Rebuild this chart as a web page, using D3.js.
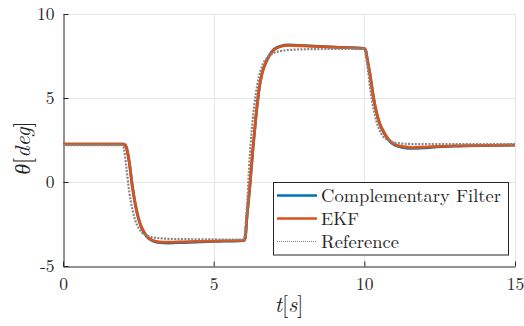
<!DOCTYPE html>
<html><head><meta charset="utf-8">
<script src="https://cdn.jsdelivr.net/npm/d3@7"></script>
<style>
html,body{margin:0;padding:0;background:#fff;}
svg{display:block;}
</style></head>
<body>
<svg id="chart" width="524" height="326"></svg>
<script>
// ---- data ----
const xTicks = [0, 5, 10, 15];
const yTicks = [-5, 0, 5, 10];
const seriesNames = ["Complementary Filter", "EKF", "Reference"];

const estT = [0, 2.0, 2.05, 2.1, 2.2, 2.3, 2.4, 2.5, 2.6, 2.7, 2.8, 3.0, 3.2, 3.5, 4.0, 5.0, 6.0,
  6.05, 6.1, 6.2, 6.3, 6.4, 6.5, 6.6, 6.7, 6.8, 7.0, 7.2, 7.5, 8.0, 9.0, 10.0,
  10.05, 10.1, 10.2, 10.3, 10.4, 10.5, 10.6, 10.8, 11.0, 11.3, 11.6, 12.0, 13.0, 15.0];
const ekfV = [2.25, 2.25, 2.22, 2.1, 1.2, -0.2, -1.3, -2.1, -2.65, -3.0, -3.25, -3.48, -3.56, -3.58, -3.56, -3.52, -3.48,
  -3.3, -2.2, -0.3, 1.9, 3.8, 5.4, 6.4, 6.95, 7.35, 7.85, 8.05, 8.13, 8.1, 8.02, 7.95,
  7.8, 7.3, 6.3, 5.1, 4.2, 3.55, 3.15, 2.55, 2.25, 2.1, 2.05, 2.08, 2.15, 2.2];
const cfV = [2.25, 2.25, 2.22, 2.08, 1.15, -0.25, -1.35, -2.15, -2.7, -3.05, -3.3, -3.52, -3.61, -3.63, -3.6, -3.54, -3.49,
  -3.3, -2.15, -0.25, 1.95, 3.85, 5.45, 6.45, 7.0, 7.4, 7.9, 8.08, 8.16, 8.12, 8.03, 7.95,
  7.8, 7.28, 6.25, 5.05, 4.15, 3.5, 3.1, 2.5, 2.2, 2.05, 2.0, 2.04, 2.13, 2.2];

const refT = [0, 1.95, 2.0, 2.1, 2.2, 2.3, 2.4, 2.5, 2.6, 2.8, 3.0, 3.3, 3.6, 4.0, 5.0, 5.95,
  6.0, 6.1, 6.2, 6.3, 6.4, 6.5, 6.6, 6.8, 7.0, 7.3, 7.6, 8.0, 9.0, 9.95,
  10.0, 10.1, 10.2, 10.3, 10.4, 10.5, 10.6, 10.8, 11.0, 11.3, 11.6, 12.0, 13.0, 15.0];
const refV = [2.2, 2.2, 2.15, 0.9, -0.6, -1.6, -2.3, -2.72, -2.98, -3.2, -3.3, -3.36, -3.39, -3.4, -3.42, -3.43,
  -3.4, -1.6, 1.6, 3.8, 5.25, 6.25, 6.88, 7.42, 7.68, 7.82, 7.87, 7.9, 7.92, 7.92,
  7.88, 6.95, 5.5, 4.4, 3.62, 3.1, 2.77, 2.48, 2.35, 2.28, 2.26, 2.25, 2.25, 2.25];

// ---- layout ----
const FONT = '"Latin Modern Roman", "Liberation Serif", serif';
const svg = d3.select("#chart");
const L = 63, R = 515, T = 14, B = 266;
const x = d3.scaleLinear().domain([0, 15]).range([L, R]);
const y = d3.scaleLinear().domain([-5, 10]).range([B, T]);

// grid
const grid = svg.append("g").attr("stroke", "#e6e6e6").attr("stroke-width", 1);
xTicks.filter(d => d !== 0).forEach(d => {
  grid.append("line").attr("x1", Math.round(x(d)) + 0.5).attr("x2", Math.round(x(d)) + 0.5).attr("y1", T).attr("y2", B);
});
yTicks.filter(d => d !== -5).forEach(d => {
  grid.append("line").attr("y1", Math.round(y(d)) + 0.5).attr("y2", Math.round(y(d)) + 0.5).attr("x1", L).attr("x2", R);
});

// axes
const fmt = d => String(d);
const xAxis = d3.axisBottom(x).tickValues(xTicks).tickFormat(fmt).tickSizeInner(-5).tickSizeOuter(0).tickPadding(11);
const yAxis = d3.axisLeft(y).tickValues(yTicks).tickFormat(fmt).tickSizeInner(-5).tickSizeOuter(0).tickPadding(9);
const gx = svg.append("g").attr("transform", `translate(0,${B + 0.5})`).call(xAxis);
const gy = svg.append("g").attr("transform", `translate(${L + 0.5},0)`).call(yAxis);
[gx, gy].forEach(g => {
  g.select(".domain").attr("stroke", "#262626").attr("stroke-width", 1);
  g.selectAll(".tick line").attr("stroke", "#262626");
  g.selectAll(".tick text").attr("font-size", 17.5).attr("fill", "#262626").style("font-family", FONT);
});

// lines
const line = d3.line().curve(d3.curveMonotoneX);
const cfPts = estT.map((t, i) => [x(t), y(cfV[i])]);
const ekfPts = estT.map((t, i) => [x(t), y(ekfV[i])]);
const refPts = refT.map((t, i) => [x(t), y(refV[i])]);

svg.append("path").attr("d", line(cfPts)).attr("fill", "none")
  .attr("stroke", "#0072BD").attr("stroke-width", 2.8).attr("stroke-linejoin", "round");
svg.append("path").attr("d", line(ekfPts)).attr("fill", "none")
  .attr("stroke", "#D95319").attr("stroke-width", 2.8).attr("stroke-linejoin", "round");
svg.append("path").attr("d", line(refPts)).attr("fill", "none")
  .attr("stroke", "#858585").attr("stroke-width", 2.2).attr("stroke-dasharray", "2,1.4");

// axis labels (math italic letters, upright brackets)
function mathLabel(sel, parts) {
  parts.forEach(([txt, it]) => {
    sel.append("tspan").attr("font-style", it ? "italic" : "normal").text(txt);
  });
}
const xl = svg.append("text").attr("x", 289).attr("y", 312).attr("text-anchor", "middle")
  .attr("font-size", 22).attr("fill", "#262626").style("font-family", FONT);
mathLabel(xl, [["t", true], ["[", false], ["s", true], ["]", false]]);
const yl = svg.append("text").attr("transform", "translate(30,148) rotate(-90)").attr("text-anchor", "middle")
  .attr("font-size", 22).attr("fill", "#262626").style("font-family", FONT);
mathLabel(yl, [["θ", true], ["[", false], ["deg", true], ["]", false]]);

// legend
const lg = svg.append("g");
lg.append("rect").attr("x", 273.5).attr("y", 182.5).attr("width", 235).attr("height", 72.5)
  .attr("fill", "#fff").attr("stroke", "#262626").attr("stroke-width", 1);
const legColors = ["#0072BD", "#D95319", "#858585"];
const legWidths = [180, 38, 78];
seriesNames.forEach((name, i) => {
  const ly = 195.5 + i * 23;
  const ln = lg.append("line").attr("x1", 277).attr("x2", 317).attr("y1", ly).attr("y2", ly)
    .attr("stroke", legColors[i]).attr("stroke-width", i < 2 ? 2.5 : 1);
  if (i === 2) ln.attr("stroke-dasharray", "1,1");
  lg.append("text").attr("x", 321).attr("y", ly + 6).attr("font-size", 18).attr("fill", "#262626")
    .style("font-family", FONT)
    .attr("textLength", legWidths[i]).attr("lengthAdjust", "spacingAndGlyphs").text(name);
});
</script>
</body></html>
